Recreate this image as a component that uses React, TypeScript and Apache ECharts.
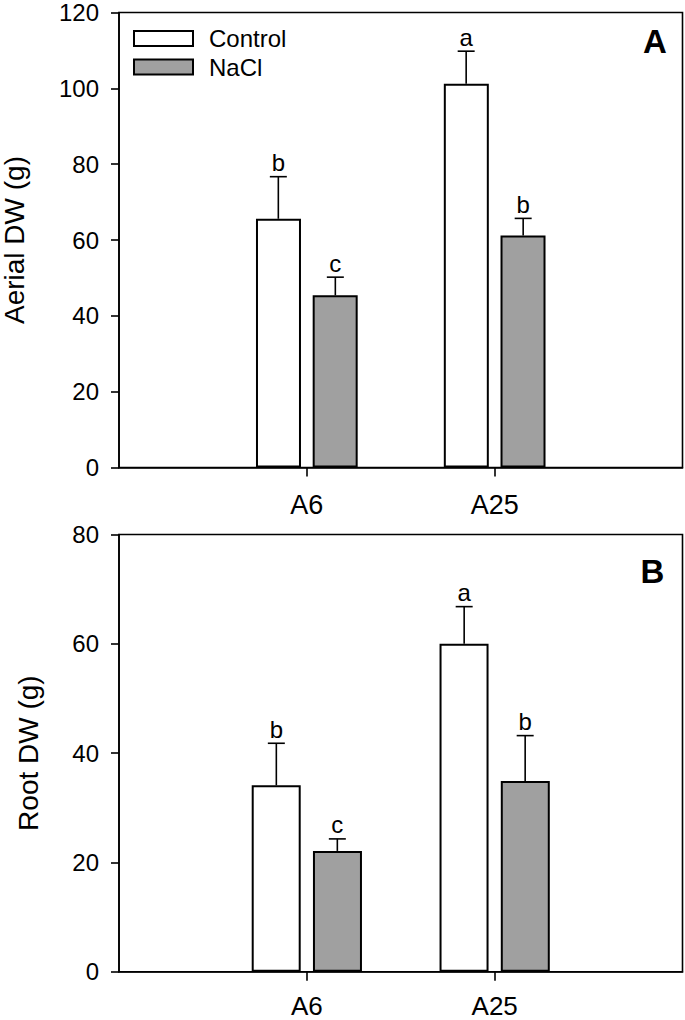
import React, { useEffect, useRef } from "react";
import * as echarts from "echarts";

const categories = ["", "A6", "A25", ""];
const groupIndex = [1, 2];

const aerialControl = [65.6, 101.2];
const aerialControlErr = [11.1, 8.6];
const aerialControlLetters = ["b", "a"];
const aerialNaCl = [45.4, 61.2];
const aerialNaClErr = [4.8, 4.5];
const aerialNaClLetters = ["c", "b"];

const rootControl = [34.1, 60.0];
const rootControlErr = [7.7, 6.8];
const rootControlLetters = ["b", "a"];
const rootNaCl = [22.1, 34.9];
const rootNaClErr = [2.2, 8.3];
const rootNaClLetters = ["c", "b"];

const aerialAxis = { min: 0, max: 120, interval: 20, name: "Aerial DW (g)" };
const rootAxis = { min: 0, max: 80, interval: 20, name: "Root DW (g)" };
const panelLabels = ["A", "B"];
const seriesNames = ["Control", "NaCl"];

const FONT = "'Liberation Sans', Arial, Helvetica, sans-serif";

export default function App() {
  const ref = useRef<HTMLDivElement>(null);
  useEffect(() => {
    if (!ref.current) return;
    const chart = echarts.init(ref.current, undefined, { renderer: "svg" });

    const pairs = (vals: number[]) => vals.map((v, i) => [groupIndex[i], v]);
    const tops = (vals: number[], errs: number[]) =>
      vals.map((v, i) => [groupIndex[i], v + errs[i]]);

    const errSeries = (gi: number, vals: number[], errs: number[], off: number) => ({
      type: "custom",
      xAxisIndex: gi,
      yAxisIndex: gi,
      z: 5,
      silent: true,
      data: pairs(vals),
      renderItem: (params: any, api: any) => {
        const i = params.dataIndex;
        const cat = api.value(0);
        const v = api.value(1);
        const base = api.coord([cat, v]);
        const top = api.coord([cat, v + errs[i]]);
        const x = base[0] + off;
        return {
          type: "group",
          children: [
            {
              type: "line",
              shape: { x1: x, y1: base[1], x2: x, y2: top[1] },
              style: { stroke: "#000", lineWidth: 1.6 },
            },
            {
              type: "line",
              shape: { x1: x - 8.5, y1: top[1], x2: x + 8.5, y2: top[1] },
              style: { stroke: "#000", lineWidth: 1.6 },
            },
          ],
        };
      },
    });

    const letterSeries = (gi: number, vals: number[], errs: number[], letters: string[], off: number) => ({
      type: "scatter",
      xAxisIndex: gi,
      yAxisIndex: gi,
      z: 6,
      silent: true,
      symbolSize: 0,
      data: tops(vals, errs),
      label: {
        show: true,
        position: "top",
        distance: 2,
        offset: [off, 0],
        formatter: (p: any) => letters[p.dataIndex],
        color: "#000",
        opacity: 1,
        fontSize: 24,
        fontFamily: FONT,
      },
    });

    const barSeries = (gi: number, name: string, vals: number[], color: string, bw: number, gap: string) => ({
      type: "bar",
      name,
      xAxisIndex: gi,
      yAxisIndex: gi,
      data: pairs(vals),
      barWidth: bw,
      barGap: gap,
      itemStyle: { color, borderColor: "#000", borderWidth: 2 },
    });

    const xAxis = (gi: number, fontSize: number, margin: number) => ({
      type: "category",
      gridIndex: gi,
      data: categories,
      boundaryGap: false,
      axisLine: { lineStyle: { color: "#000", width: 1.6 } },
      axisTick: {
        show: true,
        length: 9,
        lineStyle: { color: "#000", width: 1.6 },
        interval: (index: number) => index === 1 || index === 2,
      },
      axisLabel: {
        interval: 0,
        color: "#000",
        fontSize,
        fontFamily: FONT,
        margin,
      },
      splitLine: { show: false },
    });

    const yAxis = (gi: number, ax: any, nameGap: number) => ({
      type: "value",
      gridIndex: gi,
      min: ax.min,
      max: ax.max,
      interval: ax.interval,
      name: ax.name,
      nameLocation: "middle",
      nameGap,
      nameMoveOverlap: false,
      nameTextStyle: { color: "#000", fontSize: 28, fontFamily: FONT },
      axisLine: { show: true, lineStyle: { color: "#000", width: 1.6 } },
      axisTick: { show: true, length: 8, lineStyle: { color: "#000", width: 1.6 } },
      axisLabel: { color: "#000", fontSize: 24, fontFamily: FONT, margin: 20 },
      splitLine: { show: false },
    });

    const gridBase = {
      left: 119,
      width: 563.5,
      show: true,
      borderColor: "#000",
      borderWidth: 1.6,
      containLabel: false,
      outerBoundsMode: "none",
    };

    const option: any = {
      animation: false,
      backgroundColor: "#fff",
      grid: [
        { ...gridBase, top: 12.5, height: 455 },
        { ...gridBase, top: 534.5, height: 437.2 },
      ],
      xAxis: [xAxis(0, 27, 24), xAxis(1, 26, 21)],
      yAxis: [yAxis(0, aerialAxis, 91), yAxis(1, rootAxis, 77)],
      legend: {
        data: seriesNames,
        orient: "vertical",
        left: 133,
        top: 26.5,
        padding: 0,
        itemWidth: 59,
        itemHeight: 15,
        itemGap: 4.5,
        icon: "rect",
        itemStyle: { borderColor: "#000", borderWidth: 2 },
        selectedMode: false,
        textStyle: { color: "#000", fontSize: 24, fontFamily: FONT, lineHeight: 24, padding: [0, 0, 0, 11] },
      },
      series: [
        barSeries(0, seriesNames[0], aerialControl, "#ffffff", 45, "26%"),
        barSeries(0, seriesNames[1], aerialNaCl, "#a0a0a0", 45, "26%"),
        errSeries(0, aerialControl, aerialControlErr, -28.5),
        errSeries(0, aerialNaCl, aerialNaClErr, 28.5),
        letterSeries(0, aerialControl, aerialControlErr, aerialControlLetters, -28.5),
        letterSeries(0, aerialNaCl, aerialNaClErr, aerialNaClLetters, 28.5),
        barSeries(1, seriesNames[0], rootControl, "#ffffff", 49, "25%"),
        barSeries(1, seriesNames[1], rootNaCl, "#a0a0a0", 49, "25%"),
        errSeries(1, rootControl, rootControlErr, -30.5),
        errSeries(1, rootNaCl, rootNaClErr, 30.5),
        letterSeries(1, rootControl, rootControlErr, rootControlLetters, -30.5),
        letterSeries(1, rootNaCl, rootNaClErr, rootNaClLetters, 30.5),
      ],
      graphic: [
        {
          type: "text",
          x: 655,
          y: 41,
          style: { text: panelLabels[0], fontSize: 33, fontWeight: "bold", fontFamily: FONT, fill: "#000", align: "center", verticalAlign: "middle" },
        },
        {
          type: "text",
          x: 652.5,
          y: 571,
          style: { text: panelLabels[1], fontSize: 33, fontWeight: "bold", fontFamily: FONT, fill: "#000", align: "center", verticalAlign: "middle" },
        },
      ],
    };
    chart.setOption(option);
    return () => chart.dispose();
  }, []);
  return (
    <div
      ref={ref}
      style={{ position: "absolute", left: 0, top: 0, width: 685, height: 1020, background: "#fff" }}
    />
  );
}
